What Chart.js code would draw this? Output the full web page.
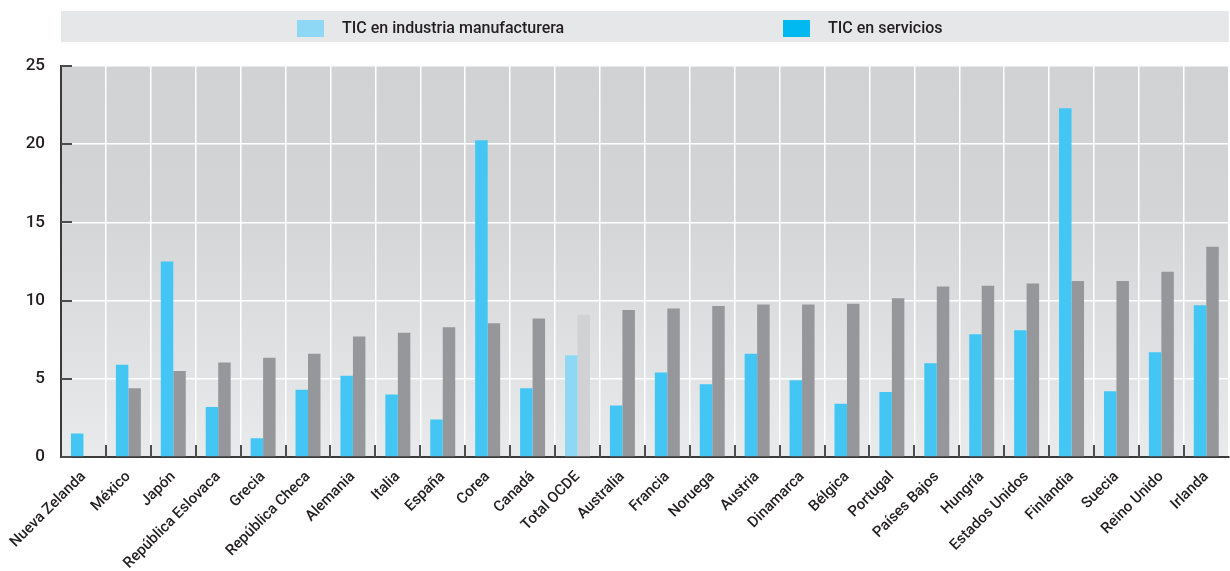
<!DOCTYPE html>
<html>
<head>
<meta charset="utf-8">
<script src="https://cdn.jsdelivr.net/npm/chart.js@4.4.1/dist/chart.umd.min.js"></script>
<style>
  html, body { margin: 0; padding: 0; background: #fff; }
  #wrap { width: 1230px; height: 571px; }
</style>
</head>
<body>
<div id="wrap"><canvas id="ticChart" width="1230" height="571"></canvas></div>
<script>
// categories (x axis)
const countries = ['Nueva Zelanda', 'México', 'Japón', 'República Eslovaca', 'Grecia', 'República Checa',
  'Alemania', 'Italia', 'España', 'Corea', 'Canadá', 'Total OCDE', 'Australia', 'Francia', 'Noruega',
  'Austria', 'Dinamarca', 'Bélgica', 'Portugal', 'Países Bajos', 'Hungría', 'Estados Unidos',
  'Finlandia', 'Suecia', 'Reino Unido', 'Irlanda'];

// blue bars
const manufacturing = [1.5, 5.9, 12.5, 3.2, 1.2, 4.3, 5.2, 4.0, 2.4, 20.25, 4.4, 6.5, 3.3,
  5.4, 4.65, 6.6, 4.9, 3.4, 4.15, 6.0, 7.85, 8.1, 22.3, 4.2, 6.7, 9.7];

// grey bars
const services = [null, 4.4, 5.5, 6.05, 6.35, 6.6, 7.7, 7.95, 8.3, 8.55, 8.85, 9.1, 9.4,
  9.5, 9.65, 9.75, 9.75, 9.8, 10.15, 10.9, 10.95, 11.1, 11.25, 11.25, 11.85, 13.45];

const yTicks = [0, 5, 10, 15, 20, 25];
const seriesNames = ['TIC en industria manufacturera', 'TIC en servicios'];

const totalIdx = countries.indexOf('Total OCDE');
const FONT = "Roboto, 'Liberation Sans', sans-serif";

const blueColors = countries.map((c, i) => i === totalIdx ? '#8fd8f5' : '#43c6f3');
const greyColors = countries.map((c, i) => i === totalIdx ? '#d1d2d4' : '#96979b');

// gradient behind plot
const plotBackground = {
  id: 'plotBackground',
  beforeDraw(chart) {
    const { ctx, chartArea: a } = chart;
    const g = ctx.createLinearGradient(0, a.top, 0, a.bottom);
    g.addColorStop(0, '#d1d2d4');
    g.addColorStop(0.35, '#d3d4d6');
    g.addColorStop(1, '#e9eaeb');
    ctx.save();
    ctx.fillStyle = g;
    ctx.fillRect(a.left, a.top, a.right - a.left, a.bottom - a.top);
    ctx.restore();
  }
};

// short ticks that point into the plot
const innerTicks = {
  id: 'innerTicks',
  afterDraw(chart) {
    const { ctx, chartArea: a, scales } = chart;
    ctx.save();
    ctx.strokeStyle = '#4d4d4f';
    ctx.lineWidth = 2;
    yTicks.forEach(v => {
      const y = Math.round(scales.y.getPixelForValue(v));
      ctx.beginPath();
      ctx.moveTo(a.left, y);
      ctx.lineTo(a.left + 11, y);
      ctx.stroke();
    });
    const n = countries.length;
    for (let i = 1; i < n; i++) {
      const x = Math.round((scales.x.getPixelForValue(i - 1) + scales.x.getPixelForValue(i)) / 2);
      ctx.beginPath();
      ctx.moveTo(x, a.bottom);
      ctx.lineTo(x, a.bottom - 12);
      ctx.stroke();
    }
    ctx.restore();
  }
};

// legend band on top
const bandLegend = {
  id: 'bandLegend',
  afterDraw(chart) {
    const { ctx, chartArea: a } = chart;
    ctx.save();
    ctx.fillStyle = '#e6e7e8';
    ctx.fillRect(a.left, 11, a.right - a.left, 31);
    const swatchX = [297, 783];
    const swatchCol = ['#8fd8f5', '#00b9f1'];
    ctx.font = '500 16px ' + FONT;
    ctx.textBaseline = 'middle';
    seriesNames.forEach((name, i) => {
      ctx.fillStyle = swatchCol[i];
      ctx.fillRect(swatchX[i], 20, 27, 17);
      ctx.fillStyle = '#231f20';
      ctx.fillText(name, swatchX[i] + 45, 29);
    });
    ctx.restore();
  }
};

const ctx = document.getElementById('ticChart').getContext('2d');
const myChart = new Chart(ctx, {
  type: 'bar',
  data: {
    labels: countries,
    datasets: [
      { label: seriesNames[0], data: manufacturing, backgroundColor: blueColors, borderWidth: 0 },
      { label: seriesNames[1], data: services, backgroundColor: greyColors, borderWidth: 0 }
    ]
  },
  options: {
    responsive: false,
    animation: false,
    categoryPercentage: 0.556,
    barPercentage: 1,
    layout: { padding: { top: 66, right: 0, left: 0, bottom: 0 } },
    plugins: {
      legend: { display: false },
      tooltip: { enabled: false }
    },
    scales: {
      x: {
        grid: { color: '#ffffff', lineWidth: 1.5, drawTicks: false, offset: true },
        border: { color: '#3b3b3b', width: 2 },
        ticks: {
          minRotation: 45, maxRotation: 45, autoSkip: false, padding: 11,
          color: '#231f20', font: { family: FONT, size: 15, weight: '500' }
        },
        afterFit(scale) { scale.height = 114; }
      },
      y: {
        min: 0, max: 25,
        grid: { color: '#ffffff', lineWidth: 1.5, drawTicks: false },
        border: { color: '#3b3b3b', width: 2 },
        ticks: {
          stepSize: 5, padding: 16, color: '#231f20',
          font: { family: FONT, size: 17, weight: '500' }
        },
        afterFit(scale) { scale.width = 61; }
      }
    }
  },
  plugins: [plotBackground, innerTicks, bandLegend]
});
</script>
</body>
</html>
